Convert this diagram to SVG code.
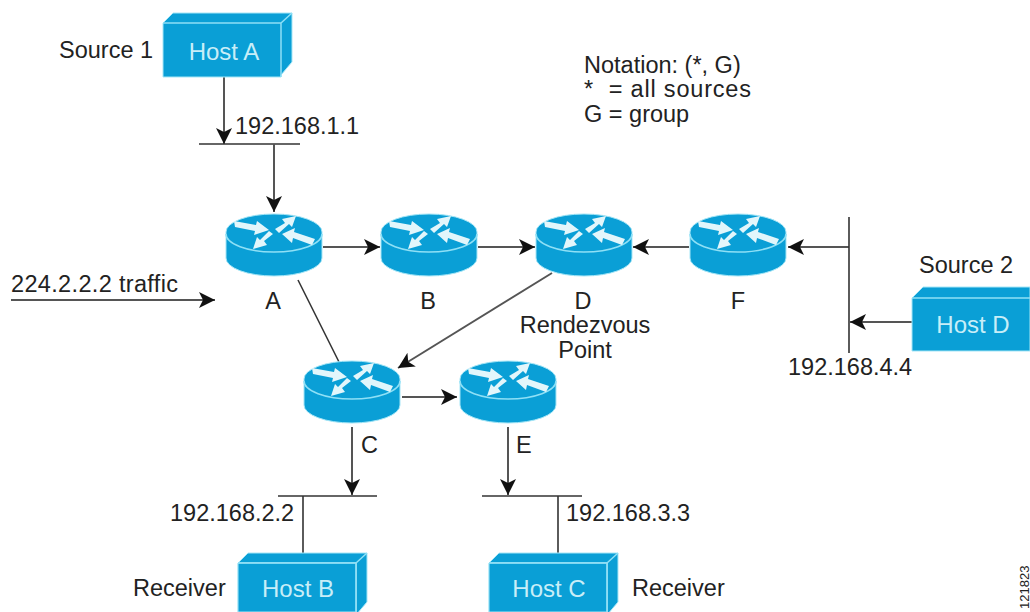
<svg xmlns="http://www.w3.org/2000/svg" width="1030" height="612" viewBox="0 0 1030 612">
<style>
text{font-family:"Liberation Sans",Arial,sans-serif;font-size:23.5px;fill:#222}
.w{fill:#c8eef8;font-size:24px;text-anchor:middle}
.c{text-anchor:middle}
.l{stroke:#333;stroke-width:1.6;fill:none}
.a{stroke:#555;stroke-width:2;fill:none;marker-end:url(#ah)}
.f{fill:#0a9fd6;stroke:#a5e6f7;stroke-width:1}
.e{stroke:#8fe0f6;stroke-width:1.5;fill:none}
.ar{fill:#e2f6fb}
</style>
<defs>
<marker id="ah" markerUnits="userSpaceOnUse" markerWidth="17" markerHeight="16" refX="16" refY="8" orient="auto"><path d="M0 0L16 8L0 16L4 8Z" fill="#111"/></marker>
<g id="rt">
<path class="f" d="M-48 0A48 18 0 0 1 48 0V26A48 18 0 0 1 -48 26Z"/>
<path class="e" d="M-48 2A48 18 0 0 0 48 2"/>
<path class="ar" d="M-40-11L-18-7L-17-11L-5-2L-20 3L-19-1L-39-5Z"/>
<path class="ar" d="M1-3L11-9L8-13L22-16L18-5L15-8L5 1Z"/>
<path class="ar" d="M-1 2L-10 9L-7 13L-21 17L-17 5L-14 8L-5 -1Z"/>
<path class="ar" d="M41 7L20 0L21-4L8 2L18 11L19 6L38 13Z"/>
</g>
<g id="hs">
<path class="f" d="M0 10L10 0H129V49L118 62V64H0Z"/>
<path class="e" d="M0 10H118V64M118 10L129 0"/>
</g>
</defs>
<rect width="1030" height="612" fill="#fff"/>
<g id="connectors">
<path class="a" d="M224 77V144"/>
<path class="l" d="M199 144H300"/>
<path class="a" d="M274 144V212"/>
<path class="a" d="M323 247H380"/>
<path class="a" d="M478 247H535"/>
<path class="a" d="M689 247H633"/>
<path class="a" d="M849 247H788"/>
<path class="l" d="M849 217V353"/>
<path class="a" d="M912 322H850"/>
<path class="a" d="M11 300H215"/>
<path class="l" d="M298 280L339 362"/>
<path class="a" d="M552 273L398 368"/>
<path class="a" d="M402 397H457"/>
<path class="a" d="M352 427V495"/>
<path class="a" d="M508 427V495"/>
<path class="l" d="M278 496H377"/>
<path class="l" d="M482 496H582"/>
<path class="l" d="M303 496V553"/>
<path class="l" d="M558 496V553"/>
</g>
<g id="hostA"><use href="#hs" x="163" y="13"/><text class="w" x="224" y="60">Host A</text></g>
<g id="hostD"><path class="f" d="M912 298L923 287H1030V351H912Z"/><path class="e" d="M912 298H1030"/><text class="w" x="973" y="333">Host D</text></g>
<g id="hostB"><use href="#hs" x="238" y="553"/><path class="f" d="M238 563H356V612H238Z"/><path class="e" d="M238 563H356V612"/><text class="w" x="298" y="597">Host B</text></g>
<g id="hostC"><use href="#hs" x="489" y="553"/><path class="f" d="M489 563H607V612H489Z"/><path class="e" d="M489 563H607V612"/><text class="w" x="549" y="597">Host C</text></g>
<g id="routerA"><use href="#rt" x="274" y="232"/><text class="c" x="273" y="309">A</text></g>
<g id="routerB"><use href="#rt" x="429" y="232"/><text class="c" x="428" y="309">B</text></g>
<g id="routerD"><use href="#rt" x="584" y="232"/><text class="c" x="583" y="309">D</text><text class="c" x="585" y="333">Rendezvous</text><text class="c" x="585" y="358">Point</text></g>
<g id="routerF"><use href="#rt" x="738" y="232"/><text class="c" x="738" y="309">F</text></g>
<g id="routerC"><use href="#rt" x="352" y="379"/><text x="361" y="453">C</text></g>
<g id="routerE"><use href="#rt" x="508" y="379"/><text x="516" y="453">E</text></g>
<g id="labels">
<text x="59" y="58">Source 1</text>
<text x="235" y="134">192.168.1.1</text>
<text x="584" y="73">Notation: (*, G)</text>
<text x="584" y="97" xml:space="preserve" textLength="167">*  = all sources</text>
<text x="584" y="122">G = group</text>
<text x="11" y="292" textLength="167">224.2.2.2 traffic</text>
<text x="919" y="273">Source 2</text>
<text x="788" y="375">192.168.4.4</text>
<text x="170" y="521">192.168.2.2</text>
<text x="566" y="521">192.168.3.3</text>
<text x="133" y="596">Receiver</text>
<text x="632" y="596">Receiver</text>
<text transform="translate(1029 609) rotate(-90)" style="font-size:13px">121823</text>
</g>
</svg>
